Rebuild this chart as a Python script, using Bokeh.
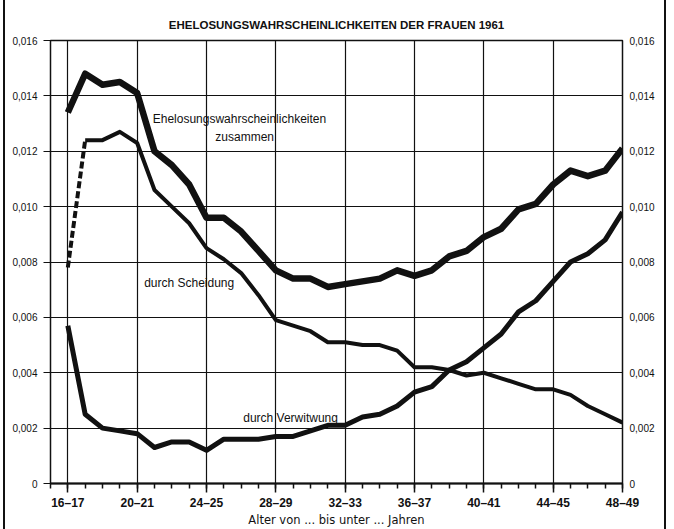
from bokeh.plotting import figure
from bokeh.models import (FixedTicker, CustomJSTickFormatter, LinearAxis, Label,
                          ColumnDataSource)
from bokeh.embed import file_html
from bokeh.resources import INLINE

# ---- data ----
ages = [16, 17, 18, 19, 20, 21, 22, 23, 24, 25, 26, 27, 28, 29, 30, 31, 32,
        33, 34, 35, 36, 37, 38, 39, 40, 41, 42, 43, 44, 45, 46, 47, 48]
zusammen = [0.0134, 0.0148, 0.0144, 0.0145, 0.0141, 0.0120, 0.0115, 0.0108,
            0.0096, 0.0096, 0.0091, 0.0084, 0.0077, 0.0074, 0.0074, 0.0071,
            0.0072, 0.0073, 0.0074, 0.0077, 0.0075, 0.0077, 0.0082, 0.0084,
            0.0089, 0.0092, 0.0099, 0.0101, 0.0108, 0.0113, 0.0111, 0.0113,
            0.0121]
scheidung = [0.0078, 0.0124, 0.0124, 0.0127, 0.0123, 0.0106, 0.0100, 0.0094,
             0.0085, 0.0081, 0.0076, 0.0068, 0.0059, 0.0057, 0.0055, 0.0051,
             0.0051, 0.0050, 0.0050, 0.0048, 0.0042, 0.0042, 0.0041, 0.0039,
             0.0040, 0.0038, 0.0036, 0.0034, 0.0034, 0.0032, 0.0028, 0.0025,
             0.0022]
verwitwung = [0.0057, 0.0025, 0.0020, 0.0019, 0.0018, 0.0013, 0.0015, 0.0015,
              0.0012, 0.0016, 0.0016, 0.0016, 0.0017, 0.0017, 0.0019, 0.0021,
              0.0021, 0.0024, 0.0025, 0.0028, 0.0033, 0.0035, 0.0041, 0.0044,
              0.0049, 0.0054, 0.0062, 0.0066, 0.0073, 0.0080, 0.0083, 0.0088,
              0.0098]
x_major = [16, 20, 24, 28, 32, 36, 40, 44, 48]
x_minor = [15, 16, 17, 18, 19, 20, 21, 22, 23, 24, 25, 26, 27, 28, 29, 30, 31,
           32, 33, 34, 35, 36, 37, 38, 39, 40, 41, 42, 43, 44, 45, 46, 47, 48]
y_ticks = [0, 0.002, 0.004, 0.006, 0.008, 0.010, 0.012, 0.014, 0.016]

title = "EHELOSUNGSWAHRSCHEINLICHKEITEN DER FRAUEN 1961"
x_label = "Alter von ... bis unter ... Jahren"

FONT = "Liberation Sans"
INK = "#111111"

p = figure(width=659, height=529, x_range=(15, 48), y_range=(0, 0.016),
           output_backend="svg", toolbar_location=None,
           min_border_left=45, min_border_right=46,
           min_border_top=40, min_border_bottom=45)
p.styles = {"box-sizing": "content-box", "margin-left": "3px",
            "border-left": "2px solid #111", "border-right": "2px solid #111"}

p.title.text = title
p.title.align = "center"
p.title.text_font = FONT
p.title.text_font_size = "11.5px"
p.title.text_font_style = "bold"
p.title.text_color = INK
p.title.standoff = 19

p.outline_line_color = INK
p.outline_line_width = 1.5
p.background_fill_color = "white"
p.border_fill_color = "white"

# grids
p.xgrid.ticker = FixedTicker(ticks=x_major)
p.ygrid.ticker = FixedTicker(ticks=y_ticks)
for g in (p.xgrid[0], p.ygrid[0]):
    g.grid_line_color = INK
    g.grid_line_width = 1.2

yfmt = CustomJSTickFormatter(
    code="return tick == 0 ? '0' : tick.toFixed(3).replace('.', ',');")
xfmt = CustomJSTickFormatter(code="return tick + '\u2013' + (tick + 1);")

# bottom axis
xa = p.xaxis[0]
xa.ticker = FixedTicker(ticks=x_major, minor_ticks=x_minor)
xa.formatter = xfmt
xa.axis_line_color = INK
xa.axis_line_width = 2
xa.major_tick_in = 0
xa.major_tick_out = 9
xa.minor_tick_in = 0
xa.minor_tick_out = 5
xa.major_tick_line_color = INK
xa.minor_tick_line_color = INK
xa.major_tick_line_width = 1.5
xa.minor_tick_line_width = 1.5
xa.major_label_text_font = FONT
xa.major_label_text_font_size = "12px"
xa.major_label_text_font_style = "bold"
xa.major_label_text_color = INK
xa.major_label_standoff = 3
xa.axis_label = x_label
xa.axis_label_text_font = "DejaVu Sans"
xa.axis_label_text_font_size = "11.5px"
xa.axis_label_text_font_style = "normal"
xa.axis_label_text_color = INK
xa.axis_label_standoff = 0

# left axis
ya = p.yaxis[0]
ya.ticker = FixedTicker(ticks=y_ticks)
ya.formatter = yfmt
ya.axis_line_color = INK
ya.major_tick_in = 0
ya.major_tick_out = 7
ya.minor_tick_out = 0
ya.minor_tick_in = 0
ya.major_tick_line_color = INK
ya.major_label_text_font = FONT
ya.major_label_text_font_size = "10px"
ya.major_label_text_color = INK
ya.major_label_standoff = 6

# right axis
ra = LinearAxis(ticker=FixedTicker(ticks=y_ticks), formatter=yfmt)
ra.axis_line_color = INK
ra.major_tick_in = 0
ra.major_tick_out = 0
ra.minor_tick_in = 0
ra.minor_tick_out = 0
ra.major_label_text_font = FONT
ra.major_label_text_font_size = "10px"
ra.major_label_text_color = INK
ra.major_label_standoff = 7
p.add_layout(ra, "right")

# lines
src = ColumnDataSource(dict(x=ages, z=zusammen, s=scheidung, v=verwitwung))
p.line("x", "z", source=src, line_color=INK, line_width=6.5, line_join="round")
p.line("x", "v", source=src, line_color=INK, line_width=5, line_join="round")
p.line(ages[1:], scheidung[1:], line_color=INK, line_width=4, line_join="round")
p.line(ages[:2], scheidung[:2], line_color=INK, line_width=4, line_dash="7 3")

# curve labels
lab = dict(text_font=FONT, text_font_size="12px", text_color=INK,
           text_align="center", text_baseline="middle")
p.add_layout(Label(x=25.9, y=0.01315, text="Ehelosungswahrscheinlichkeiten", **lab))
p.add_layout(Label(x=26.2, y=0.0125, text="zusammen", **lab))
p.add_layout(Label(x=23.0, y=0.00724, text="durch Scheidung", **lab))
p.add_layout(Label(x=28.85, y=0.00238, text="durch Verwitwung", **lab))

open("out.html", "w").write(file_html(p, INLINE))
